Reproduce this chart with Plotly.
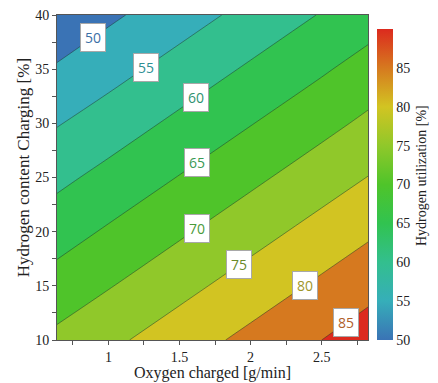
import numpy as np
import plotly.graph_objects as go

# Grid
oxygen = [0.638, 1.0, 1.5, 2.0, 2.5, 2.826]          # g/min
hydrogen = [10, 15, 20, 25, 30, 35, 40]               # %
utilization = [
    [71.2, 73.9, 77.6, 81.3, 85.0, 87.5],
    [67.0, 69.7, 73.5, 77.2, 80.9, 83.4],
    [62.9, 65.6, 69.3, 73.1, 76.8, 79.2],
    [58.8, 61.5, 65.2, 68.9, 72.7, 75.1],
    [54.7, 57.3, 61.1, 64.8, 68.5, 71.0],
    [50.5, 53.2, 56.9, 60.7, 64.4, 66.9],
    [46.4, 49.1, 52.8, 56.5, 60.3, 62.7],
]
levels = [50, 55, 60, 65, 70, 75, 80, 85]
label_x = [0.894, 1.262, 1.617, 1.624, 1.624, 1.92, 2.38, 2.67]
label_colors = ['#3b6fa6', '#2f8f93', '#2f9270', '#3a9a55', '#4a9a3a',
                '#6a8a2a', '#a0962a', '#b0602a']

band_colors = ['#3a73b5', '#36aeb9', '#33bf8e', '#31c350', '#4fc42a',
               '#90c82a', '#d2c422', '#d6791f', '#dc2a1e']

x_title = 'Oxygen charged [g/min]'
y_title = 'Hydrogen content Charging [%]'
cbar_title = 'Hydrogen utilization [%]'

Z = np.array(utilization)
X = np.array(oxygen)
Y = np.array(hydrogen)

n = len(band_colors)
fill_scale = [[i / (n - 1), c] for i, c in enumerate(band_colors)]
bar_scale = [[(v - 50) / 40, c] for v, c in zip(range(50, 95, 5), band_colors)]

SERIF = 'Liberation Serif'
INK = '#222'

fig = go.Figure()
fig.add_trace(go.Contour(
    x=oxygen, y=hydrogen, z=utilization,
    contours=dict(start=50, end=85, size=5, coloring='fill'),
    colorscale=fill_scale, showscale=False,
    line=dict(color='rgba(30,50,40,0.6)', width=0.8),
    hoverinfo='skip',
))

# continuous colorbar
fig.add_trace(go.Scatter(
    x=[oxygen[0], oxygen[0]], y=[hydrogen[0], hydrogen[0]], mode='markers',
    marker=dict(color=[50, 90], cmin=50, cmax=90, colorscale=bar_scale, opacity=0,
                size=1, showscale=True,
                colorbar=dict(
                    x=1.029, xanchor='left', y=0, yanchor='bottom', len=0.957,
                    thickness=16, outlinewidth=0, ticks='', xpad=0, ypad=0,
                    tickvals=[50, 55, 60, 65, 70, 75, 80, 85],
                    tickfont=dict(family=SERIF, size=14, color=INK),
                )),
    hoverinfo='skip', showlegend=False,
))


def y_on_level(xv, lev):
    col = np.array([np.interp(xv, X, Z[j]) for j in range(len(Y))])
    return float(np.interp(lev, col[::-1], Y[::-1]))


for lev, lx, lc in zip(levels, label_x, label_colors):
    fig.add_annotation(
        x=lx, y=y_on_level(lx, lev), text=str(lev), showarrow=False,
        font=dict(family='Open Sans', size=14, color=lc),
        bgcolor='white', bordercolor='#a8a8a8', borderwidth=1, borderpad=4,
    )

# titles
fig.add_annotation(text=x_title, xref='paper', yref='paper', x=0.5, y=-0.101,
                   xanchor='center', yanchor='middle', showarrow=False,
                   font=dict(family=SERIF, size=16, color=INK))
fig.add_annotation(text=y_title, xref='paper', yref='paper', x=-0.108, y=0.53,
                   xanchor='center', yanchor='middle', showarrow=False, textangle=-90,
                   font=dict(family=SERIF, size=17, color=INK))
fig.add_annotation(text=cbar_title, xref='paper', yref='paper', x=1.174, y=0.505,
                   xanchor='center', yanchor='middle', showarrow=False, textangle=-90,
                   font=dict(family=SERIF, size=14, color=INK))

axis_common = dict(
    showgrid=False, zeroline=False, showline=True, mirror=True, automargin=False,
    linecolor='#555', linewidth=1, ticks='outside', ticklen=4, tickcolor='#555',
    ticklabeloverflow='allow',
    tickfont=dict(family=SERIF, size=14, color=INK),
)
fig.update_xaxes(range=[oxygen[0], oxygen[-1]], tickvals=[1, 1.5, 2, 2.5],
                 ticktext=['1', '1.5', '2', '2.5'],
                 minor=dict(dtick=0.25, tick0=0, ticks='outside', ticklen=4, tickcolor='#555'),
                 **axis_common)
fig.update_yaxes(range=[hydrogen[0], hydrogen[-1]], dtick=5,
                 minor=dict(dtick=2.5, tick0=0, ticks='outside', ticklen=4, tickcolor='#555'),
                 **axis_common)
# page body has an 8px margin, so the figure is sized/offset to compensate
fig.update_layout(
    width=430, height=375,
    margin=dict(l=49, r=70, t=7, b=43, autoexpand=False),
    paper_bgcolor='white', plot_bgcolor='white', showlegend=False,
)
fig.write_html("out.html")
